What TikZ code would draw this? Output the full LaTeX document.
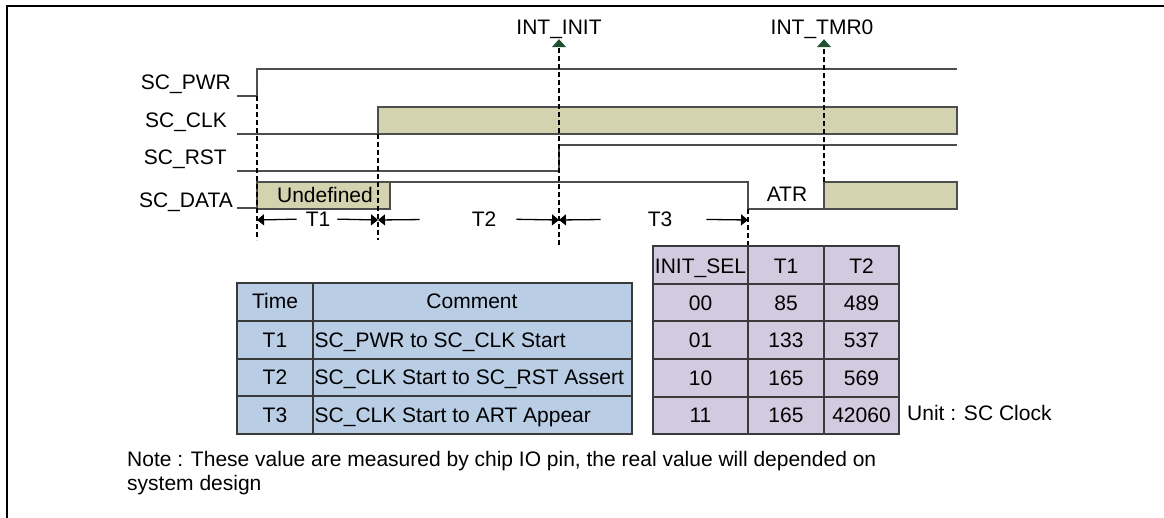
\documentclass[tikz,border=0pt]{standalone}
\usepackage{fontspec}
\setmainfont{Liberation Sans}
\usepackage{tikz}
\usetikzlibrary{arrows.meta}

\definecolor{khaki}{HTML}{D3D3AF}
\definecolor{tblblue}{HTML}{B9CDE5}
\definecolor{tbllav}{HTML}{D2CBE0}
\definecolor{intgreen}{HTML}{1F5130}
\definecolor{wavegray}{HTML}{4D4D4D}
\definecolor{gridgray}{HTML}{3A3A3A}

\newcommand{\sigfont}{\fontsize{21}{25}\selectfont}
\newcommand{\notefont}{\fontsize{21}{24}\selectfont}

\tikzset{
  sig/.style={font=\sigfont, inner sep=0pt, text height=15pt, text depth=0pt},
  wave/.style={draw=wavegray, line width=1.5pt},
  busbox/.style={wave, fill=khaki},
  dline/.style={line width=1.3pt, dash pattern=on 5pt off 3pt},
  intarrow/.style={dline, -{Triangle[length=8pt, width=14pt, color=intgreen]}},
  dimarrow/.style={line width=1.3pt, -{Triangle[length=7pt, width=11pt]}},
  grid/.style={draw=gridgray, line width=1.5pt}
}

\begin{document}
\begin{tikzpicture}[x=1pt, y=-1pt]
    \useasboundingbox (0,0) rectangle (1164,518);

    % Frame
    \draw[line width=2.5pt] (1164,6) -- (7,6) -- (7,518);

    % Signal names
    \node[sig, anchor=east] (lpwr)  at (231,82.5) {SC\_PWR};
    \node[sig, anchor=east] (lclk)  at (227,120)  {SC\_CLK};
    \node[sig, anchor=east] (lrst)  at (227,157)  {SC\_RST};
    \node[sig, anchor=east] (ldata) at (233,200)  {SC\_DATA};

    % SC_PWR
    \draw[wave] (237,96) -- (257,96) -- (257,69) -- (957,69);

    % SC_CLK
    \draw[busbox] (378,107) rectangle (957,134);
    \draw[wave] (237,134) -- (400,134);

    % SC_RST
    \draw[wave] (237,171) -- (559,171) -- (559,145) -- (957,145);

    % SC_DATA
    \draw[wave] (237,208) -- (257,208);
    \draw[busbox] (257,182) rectangle (390,209);
    \node[sig] (lundef) at (325,195) {Undefined};
    \draw[wave] (390,182) -- (748,182) -- (748,209) -- (824,209);
    \node[sig] (latr) at (787,194.5) {ATR};
    \draw[busbox] (824,182) rectangle (957,209);

    % Interrupt marks
    \node[sig] (lint) at (559,27.5) {INT\_INIT};
    \node[sig] (ltmr) at (822,27.5) {INT\_TMR0};
    \coordinate (initlow) at (559,245);
    \coordinate (tmrlow)  at (824,182);
    \draw[intarrow, shorten >=4pt] (initlow) -- (lint.south);
    \draw[intarrow, shorten >=4pt] (tmrlow) -- (ltmr.south -| tmrlow);

    % Dashed markers
    \draw[dline] (257,96) -- (257,240);
    \draw[dline] (378,134) -- (378,240);
    \draw[dline] (748,209) -- (748,246);

    % Timing intervals
    \coordinate (da) at (257,220);
    \coordinate (db) at (378,220);
    \coordinate (dc) at (559,220);
    \coordinate (dd) at (748,220);
    \node[sig] (t1) at (318,219) {T1};
    \node[sig] (t2) at (484,219) {T2};
    \node[sig] (t3) at (660,219) {T3};
    \draw[dimarrow, shorten <=9pt]  (t1.west) -- (da);
    \draw[dimarrow, shorten <=7pt]  (t1.east) -- (db);
    \draw[dimarrow, shorten <=52pt] (t2.west) -- (db);
    \draw[dimarrow, shorten <=20pt] (t2.east) -- (dc);
    \draw[dimarrow, shorten <=47pt] (t3.west) -- (dc);
    \draw[dimarrow, shorten <=34pt] (t3.east) -- (dd);

    % Table Time / Comment
    \fill[tblblue] (237,283) rectangle (632,434);
    \foreach \y in {321, 359, 396} {
        \draw[grid] (237,\y) -- (632,\y);
    }
    \draw[grid] (313,283) -- (313,434);
    \draw[grid] (237,283) rectangle (632,434);
    \node[sig] (htime) at (275,301) {Time};
    \node[sig] (hcomm) at (472,301) {Comment};
    \foreach \t/\c [count=\i] in {T1/SC\_PWR to SC\_CLK Start,
                                  T2/SC\_CLK Start to SC\_RST Assert,
                                  T3/SC\_CLK Start to ART Appear} {
        \node[sig] (time\i) at (275,302+37.7*\i) {\t};
        \node[sig, anchor=west] (comm\i) at (314.5,302+37.7*\i) {\c};
    }

    % Table INIT_SEL
    \fill[tbllav] (653,246) rectangle (899,434);
    \foreach \y in {284, 321, 359, 397} {
        \draw[grid] (653,\y) -- (899,\y);
    }
    \foreach \x in {748, 824} {
        \draw[grid] (\x,246) -- (\x,434);
    }
    \draw[grid] (653,246) rectangle (899,434);
    \node[sig] (hsel) at (700.5,266) {INIT\_SEL};
    \node[sig] (hta)  at (786,266)   {T1};
    \node[sig] (htb)  at (861.5,266) {T2};
    \foreach \s/\a/\b [count=\i] in {00/85/489, 01/133/537, 10/165/569, 11/165/42060} {
        \node[sig] (sel\i) at (700.5,265+37.6*\i) {\s};
        \node[sig] (ta\i)  at (786,265+37.6*\i)   {\a};
        \node[sig] (tb\i)  at (861.5,265+37.6*\i) {\b};
    }
    \node[sig, anchor=west] (unit) at (907,412.5) {Unit : SC Clock};

    % Note
    \node[font=\notefont, inner sep=0pt, anchor=base west, align=left] (note) at (127,490)
        {Note : These value are measured by chip IO pin, the real value will depended on\\system design};
\end{tikzpicture}
\end{document}
